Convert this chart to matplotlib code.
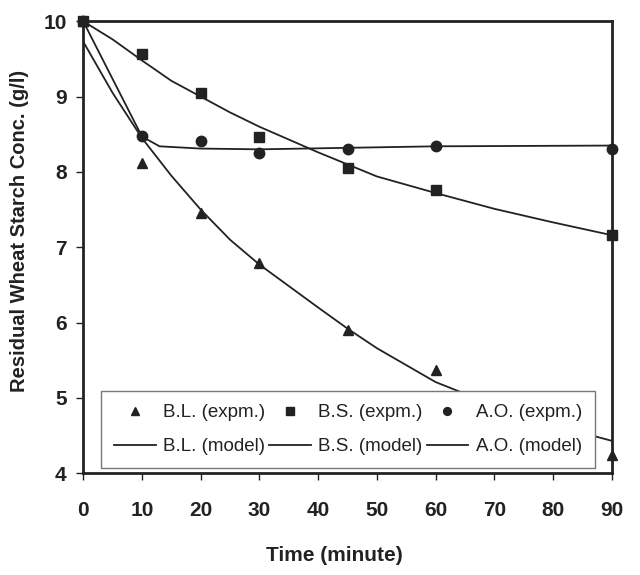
import matplotlib.pyplot as plt

plt.rcParams["font.family"] = ["Liberation Sans", "DejaVu Sans"]

# experimental points
t_exp = [0, 10, 20, 30, 45, 60, 90]
bl_exp = [10.0, 8.12, 7.46, 6.79, 5.90, 5.37, 4.24]
bs_exp = [10.0, 9.57, 9.05, 8.47, 8.05, 7.76, 7.16]
ao_exp = [10.0, 8.48, 8.41, 8.25, 8.30, 8.35, 8.31]

# model curves
t_bl = [0, 5, 10, 15, 20, 25, 30, 40, 45, 50, 60, 70, 80, 90]
bl_mod = [9.73, 9.05, 8.45, 7.95, 7.50, 7.10, 6.77, 6.20, 5.92, 5.66, 5.21, 4.90, 4.64, 4.43]
t_bs = [0, 5, 10, 15, 20, 25, 30, 40, 45, 50, 60, 70, 80, 90]
bs_mod = [10.0, 9.76, 9.48, 9.21, 9.00, 8.79, 8.60, 8.26, 8.10, 7.94, 7.72, 7.51, 7.33, 7.16]
t_ao = [0, 10, 13, 20, 30, 45, 60, 90]
ao_mod = [10.0, 8.47, 8.34, 8.31, 8.30, 8.32, 8.34, 8.35]

ink = "#222222"

fig = plt.figure(figsize=(6.4, 5.75), dpi=100)
ax = fig.add_axes([0.13, 0.177, 0.826, 0.786])

# legend order fills column by column
ax.plot(t_exp, bl_exp, "^", color=ink, markersize=7, label="B.L. (expm.)", clip_on=False)
ax.plot(t_bl, bl_mod, "-", color=ink, linewidth=1.3, label="B.L. (model)")
ax.plot(t_exp, bs_exp, "s", color=ink, markersize=7, label="B.S. (expm.)", clip_on=False)
ax.plot(t_bs, bs_mod, "-", color=ink, linewidth=1.3, label="B.S. (model)")
ax.plot(t_exp, ao_exp, "o", color=ink, markersize=7.5, label="A.O. (expm.)", clip_on=False)
ax.plot(t_ao, ao_mod, "-", color=ink, linewidth=1.3, label="A.O. (model)")

ax.set_xlim(0, 90)
ax.set_ylim(4, 10)
ax.set_xticks(range(0, 91, 10))
ax.set_yticks(range(4, 11))

for side in ["left", "right", "top", "bottom"]:
    ax.spines[side].set_linewidth(2)
    ax.spines[side].set_color(ink)

ax.tick_params(direction="out", length=5, width=1, colors=ink, labelsize=15, pad=15)
ax.tick_params(axis="y", pad=7)
for lbl in ax.get_xticklabels() + ax.get_yticklabels():
    lbl.set_fontweight("bold")

ax.set_xlabel("Time (minute)", fontsize=15, fontweight="bold", color=ink)
ax.set_ylabel("Residual Wheat Starch Conc. (g/l)", fontsize=14.5, fontweight="bold", color=ink)
ax.xaxis.set_label_coords(0.475, -0.16)
ax.yaxis.set_label_coords(-0.102, 0.535)

leg = ax.legend(ncol=3, loc="lower left", bbox_to_anchor=(0.034, 0.011, 0.934, 0.18),
                mode="expand", borderaxespad=0, fontsize=13.5, fancybox=False, framealpha=1,
                edgecolor="#777777", handlelength=2.2, handletextpad=0.4, markerscale=0.75,
                columnspacing=0.4, borderpad=0.7, labelspacing=0.9)
leg.get_frame().set_linewidth(1)
for txt in leg.get_texts():
    txt.set_color(ink)

fig.savefig("out.png", dpi=100)
